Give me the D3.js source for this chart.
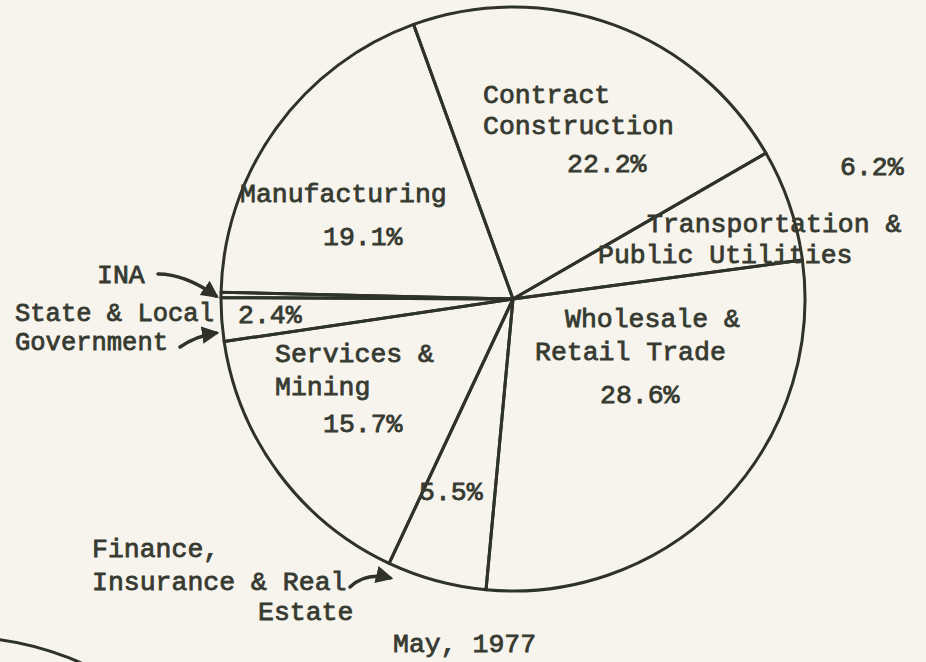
<!DOCTYPE html>
<html lang="en">
<head>
    <meta charset="UTF-8">
    <title>May, 1977</title>
    <script src="https://cdn.jsdelivr.net/npm/d3@7"></script>
    <style>
        body { margin: 0; background: #f6f4ec; }
        text { font-family: "Liberation Mono", "Courier New", monospace; font-size: 26.5px; fill: #363a31; stroke: #363a31; stroke-width: 0.8px; }
    </style>
</head>
<body>
<script>
    const [width, height] = [926, 662]
    const ink = '#2e3229'

    // sectors clockwise from the top, percent of total
    const sectors = ['Contract Construction', 'Transportation & Public Utilities', 'Wholesale & Retail Trade',
        'Finance, Insurance & Real Estate', 'Services & Mining', 'State & Local Government', 'INA', 'Manufacturing']
    const shares = [22.2, 6.2, 28.6, 5.5, 15.7, 2.4, 0.3, 19.1]
    const shareLabels = ['22.2%', '6.2%', '28.6%', '5.5%', '15.7%', '2.4%', '', '19.1%']
    const title = 'May, 1977'

    const [cx, cy, r] = [513, 299, 292]
    const startDeg = -19.9

    const svg = d3.select('body').append('svg')
        .attr('width', width)
        .attr('height', height)

    svg.append('rect').attr('width', width).attr('height', height).attr('fill', '#f6f4ec')

    // edge of the next chart peeking in at bottom left
    svg.append('circle')
        .attr('cx', -40).attr('cy', 932).attr('r', 295)
        .attr('fill', 'none').attr('stroke', ink).attr('stroke-width', 3)

    const pie = d3.pie().sort(null).value(d => d)
        .startAngle(startDeg * Math.PI / 180)
        .endAngle(startDeg * Math.PI / 180 + 2 * Math.PI)
    const arc = d3.arc().innerRadius(0).outerRadius(r)

    const g = svg.append('g').attr('transform', `translate(${cx},${cy})`)
    g.selectAll('path.slice').data(pie(shares))
        .enter().append('path').attr('class', 'slice')
        .attr('d', arc)
        .attr('fill', 'none')
        .attr('stroke', ink)
        .attr('stroke-width', 3)
        .attr('stroke-linejoin', 'round')

    // typed labels: each line as [text, x, baseline, font size]
    const labelLines = [
        ['Contract', 483, 103], ['Construction', 483, 134],
        ['Transportation &', 647, 232], ['Public Utilities', 598, 263],
        ['Wholesale &', 565, 327], ['Retail Trade', 535, 360],
        ['Finance,', 92, 557], ['Insurance & Real', 92, 590], ['Estate', 258, 620],
        ['Services &', 275, 362], ['Mining', 275, 395],
        ['State & Local', 15, 321, 25.5], ['Government', 15, 350, 25.5],
        ['INA', 97, 283],
        ['Manufacturing', 240, 202]
    ]
    labelLines.forEach(([t, x, y, size]) => {
        const txt = svg.append('text').attr('x', x).attr('y', y).text(t)
        if (size) txt.style('font-size', size + 'px')
    })

    const pctPos = [[567, 172], [840, 175], [600, 403], [419, 500], [323, 432], [238, 323], null, [323, 245]]
    shareLabels.forEach((t, i) => {
        if (!t) return
        svg.append('text').attr('x', pctPos[i][0]).attr('y', pctPos[i][1]).text(t)
    })

    svg.append('text').attr('x', 393).attr('y', 652).text(title)

    // hand drawn pointers
    svg.append('defs').append('marker')
        .attr('id', 'head').attr('viewBox', '0 0 10 10')
        .attr('refX', 8).attr('refY', 5)
        .attr('markerWidth', 5).attr('markerHeight', 5)
        .attr('orient', 'auto')
        .append('path').attr('d', 'M0,0 L10,5 L0,10 Z').attr('fill', ink)

    const pointers = [
        'M158,274 Q185,274 216,296',
        'M180,347 Q196,336 216,333',
        'M350,587 Q366,572 390,578'
    ]
    svg.selectAll('path.pointer').data(pointers)
        .enter().append('path').attr('class', 'pointer')
        .attr('d', d => d)
        .attr('fill', 'none')
        .attr('stroke', ink)
        .attr('stroke-width', 3.5)
        .attr('stroke-linecap', 'round')
        .attr('marker-end', 'url(#head)')
</script>
</body>
</html>
